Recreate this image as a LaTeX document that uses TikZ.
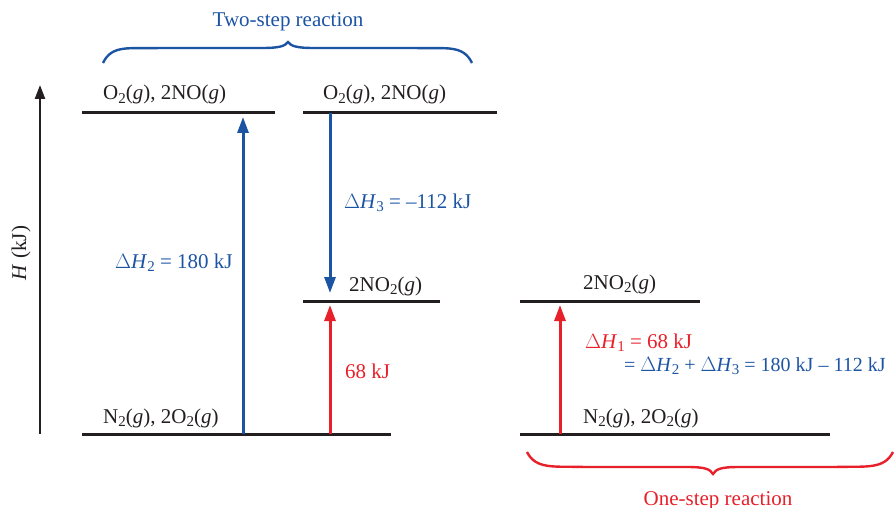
\documentclass[tikz,border=0pt]{standalone}
\usepackage{fontspec}
\setmainfont{Liberation Serif}
\usetikzlibrary{arrows.meta}
\definecolor{bblue}{RGB}{28,84,164}
\definecolor{rred}{RGB}{232,32,42}
\definecolor{ink}{RGB}{35,31,32}
\newcommand{\lsb}[1]{\raisebox{-0.35ex}{\fontsize{15}{15}\selectfont #1}}
\newcommand{\gi}{\textit{g}}
\newcommand{\dHx}[1]{$\Delta$\textit{H}\lsb{#1}}
\tikzset{
  level/.style={draw=ink, line width=3pt},
  lab/.style={anchor=base west, inner sep=0pt, text=ink, font=\fontsize{21}{25}\selectfont},
  bluelab/.style={lab, text=bblue},
  redlab/.style={lab, text=rred},
  upb/.style={draw=bblue, line width=3pt, -{Triangle[length=16pt,width=11pt]}},
  upr/.style={draw=rred, line width=3pt, -{Triangle[length=16pt,width=11pt]}},
  axis/.style={draw=ink, line width=2.4pt, -{Triangle[length=14pt,width=10pt]}},
  brace/.style={line width=2.4pt}
}
\begin{document}
\begin{tikzpicture}[x=1pt,y=-1pt]
\useasboundingbox (0,0) rectangle (895,508);
% axis
\coordinate (ax0) at (40,434);
\coordinate (ax1) at (40,85);
\draw[axis] (ax0) -- (ax1);
\node[text=ink, font=\fontsize{21}{25}\selectfont, rotate=90] (hlab) at (21,253) {\textit{H} (kJ)};
% levels
\coordinate (tl0) at (82,113);  \coordinate (tl1) at (275,113);
\coordinate (tm0) at (303,113); \coordinate (tm1) at (497,113);
\coordinate (mm0) at (303,301); \coordinate (mm1) at (440,301);
\coordinate (bl0) at (82,434);  \coordinate (bl1) at (391,434);
\coordinate (rt0) at (520,301); \coordinate (rt1) at (700,301);
\coordinate (rb0) at (520,434); \coordinate (rb1) at (830,434);
\draw[level] (tl0) -- (tl1);
\draw[level] (tm0) -- (tm1);
\draw[level] (mm0) -- (mm1);
\draw[level] (bl0) -- (bl1);
\draw[level] (rt0) -- (rt1);
\draw[level] (rb0) -- (rb1);
% level labels
\node[lab] (ltl) at (103,100) {O\lsb{2}(\gi), 2NO(\gi)};
\node[lab] (ltm) at (323,100) {O\lsb{2}(\gi), 2NO(\gi)};
\node[lab] (lmm) at (349,291) {2NO\lsb{2}(\gi)};
\node[lab] (lbl) at (103,423) {N\lsb{2}(\gi), 2O\lsb{2}(\gi)};
\node[lab] (lrt) at (583,289) {2NO\lsb{2}(\gi)};
\node[lab] (lrb) at (583,423) {N\lsb{2}(\gi), 2O\lsb{2}(\gi)};
% arrows
\coordinate (a1s) at (243,434); \coordinate (a1e) at (243,117);
\coordinate (a2s) at (330,113); \coordinate (a2e) at (330,293);
\coordinate (a3s) at (330,434); \coordinate (a3e) at (330,305);
\coordinate (a4s) at (560,434); \coordinate (a4e) at (560,305);
\draw[upb] (a1s) -- (a1e);
\draw[upb] (a2s) -- (a2e);
\draw[upr] (a3s) -- (a3e);
\draw[upr] (a4s) -- (a4e);
% arrow labels
\node[bluelab] (dh2) at (115,268) {\dHx{2} = 180 kJ};
\node[bluelab] (dh3) at (344,208) {\dHx{3} = –112 kJ};
\node[redlab] (k68) at (345,378) {68 kJ};
\node[redlab] (dh1) at (585,348) {\dHx{1} = 68 kJ};
\node[bluelab, font=\fontsize{20}{24}\selectfont] (sum) at (624,371) {= \dHx{2} + \dHx{3} = 180 kJ – 112 kJ};
% braces
\coordinate (bb0) at (103,63); \coordinate (bbt) at (288,42); \coordinate (bb1) at (472,63);
\draw[brace, draw=bblue] (bb0) .. controls (112,44) and (130,49) .. (160,48)
  -- (262,48) .. controls (280,48) and (285,46) .. (bbt)
  .. controls (291,46) and (296,48) .. (314,48)
  -- (415,48) .. controls (445,49) and (463,44) .. (bb1);
\node[text=bblue, font=\fontsize{21}{25}\selectfont, anchor=base, inner sep=0pt] (two) at (288,27) {Two-step reaction};
\coordinate (rb0b) at (527,452); \coordinate (rbt) at (713,474); \coordinate (rb1b) at (893,452);
\draw[brace, draw=rred] (rb0b) .. controls (536,470) and (555,466) .. (585,467)
  -- (687,467) .. controls (705,467) and (710,469) .. (rbt)
  .. controls (716,469) and (721,467) .. (739,467)
  -- (835,467) .. controls (865,466) and (884,470) .. (rb1b);
\node[text=rred, font=\fontsize{21}{25}\selectfont, anchor=base, inner sep=0pt] (one) at (718,505) {One-step reaction};
\end{tikzpicture}
\end{document}
